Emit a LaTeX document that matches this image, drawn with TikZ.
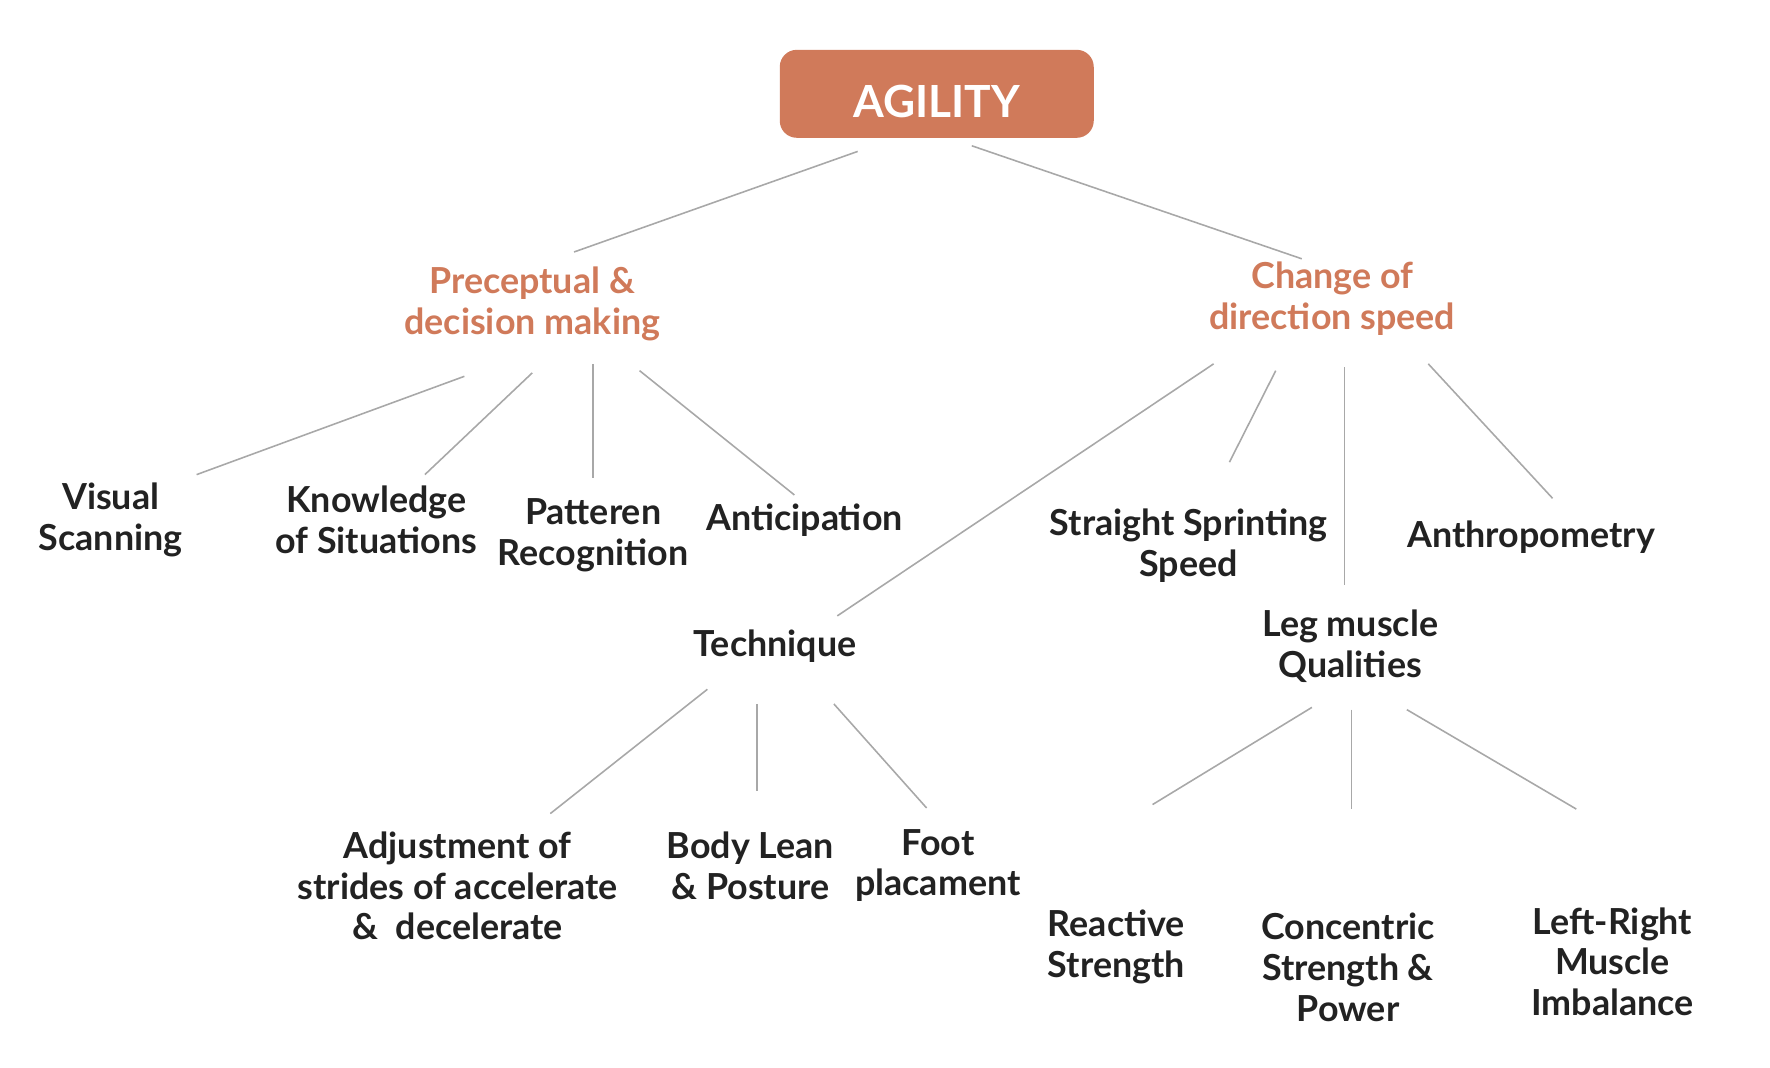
\documentclass[tikz,border=0pt]{standalone}
\usepackage{fontspec}
\setmainfont{Lato}
\usetikzlibrary{calc}
\definecolor{rust}{HTML}{D07A5A}
\definecolor{ink}{HTML}{222222}
\definecolor{wire}{HTML}{A8A8A8}
\tikzset{
  rootbox/.style={fill=rust, rounded corners=1.7mm, minimum width=31.4mm,
    minimum height=8.8mm, text=white, text height=13.5pt, text depth=0pt,
    font=\fontsize{12.6pt}{14pt}\bfseries},
  head/.style={align=center, text=rust, font=\fontsize{10.2pt}{11.6pt}\bfseries},
  leaf/.style={align=center, text=ink, font=\fontsize{10.2pt}{11.6pt}\bfseries},
  link/.style={wire, line width=0.45pt}
}
\begin{document}
\begin{tikzpicture}[x=0.113mm, y=-0.113mm]
  \useasboundingbox (0,0) rectangle (1566.4,945.1);
  % top
  \node[rootbox] (agility) at (829,83) {AGILITY};
  \node[head] (prec) at (471,269) {Preceptual \&\\decision making};
  \node[head] (cod) at (1179,264) {Change of\\direction speed};
  % perceptual side
  \node[leaf] (vis) at (98,460) {Visual\\Scanning};
  \node[leaf] (know) at (333,460) {Knowledge\\of Situations};
  \node[leaf] (patt) at (525,474) {Patteren\\Recognition};
  \node[leaf] (anti) at (712,460) {Anticipation};
  % change of direction side
  \node[leaf] (sss) at (1052,483) {Straight Sprinting\\Speed};
  \node[leaf] (anth) at (1355,475) {Anthropometry};
  \node[leaf] (tech) at (686,572) {Technique};
  \node[leaf] (leg) at (1195,572) {Leg muscle\\Qualities};
  \node[leaf] (adj) at (405,784) {Adjustment of\\strides of accelerate\\\&~~decelerate};
  \node[leaf] (body) at (664,766) {Body Lean\\\& Posture};
  \node[leaf] (foot) at (830,766) {Foot\\placament};
  \node[leaf] (react) at (988,838) {Reactive\\Strength};
  \node[leaf] (conc) at (1193,856) {Concentric\\Strength \&\\Power};
  \node[leaf] (lr) at (1427,851) {Left-Right\\Muscle\\Imbalance};
  % links
  \draw[link] ($(agility)+(-70,51)$) -- ($(prec)+(37,-46)$);
  \draw[link] ($(agility)+(31,46)$) -- ($(cod)+(-27,-35)$);
  \draw[link] ($(prec)+(-60,64)$) -- ($(vis)+(76,-40)$);
  \draw[link] ($(prec)+(0,61)$) -- ($(know)+(43,-40)$);
  \draw[link] ($(prec)+(54,53)$) -- ($(patt)+(0,-51)$);
  \draw[link] ($(prec)+(95,59)$) -- ($(anti)+(-9,-22)$);
  \draw[link] ($(cod)+(-105,58)$) -- ($(tech)+(55,-27)$);
  \draw[link] ($(cod)+(-50,64)$) -- ($(sss)+(36,-74)$);
  \draw[link] ($(cod)+(11,61)$) -- ($(leg)+(-5,-54)$);
  \draw[link] ($(cod)+(85,58)$) -- ($(anth)+(19,-34)$);
  \draw[link] ($(tech)+(-60,38)$) -- ($(adj)+(82,-64)$);
  \draw[link] ($(tech)+(-16,51)$) -- ($(body)+(6,-66)$);
  \draw[link] ($(tech)+(52,51)$) -- ($(foot)+(-10,-51)$);
  \draw[link] ($(leg)+(-34,54)$) -- ($(react)+(32,-126)$);
  \draw[link] ($(leg)+(1,56)$) -- ($(conc)+(3,-140)$);
  \draw[link] ($(leg)+(50,56)$) -- ($(lr)+(-32,-135)$);
\end{tikzpicture}
\end{document}
